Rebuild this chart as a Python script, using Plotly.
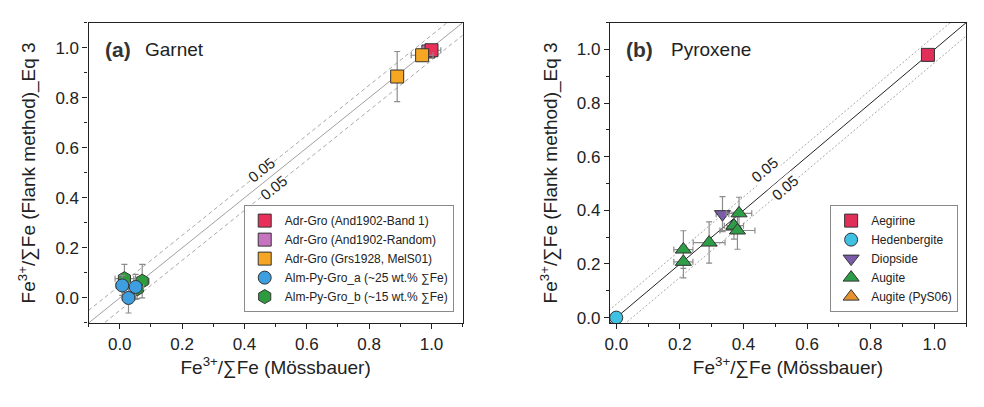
import math
import plotly.graph_objects as go

# ---------------- data: panel (a) Garnet ----------------
band1_x = [1.00]; band1_y = [0.99]; band1_ex = [0.03]; band1_ey = [0.01]
random_x = [0.99]; random_y = [0.985]; random_ex = [0.02]; random_ey = [0.01]
grs_x = [0.89, 0.97]; grs_y = [0.885, 0.97]; grs_ex = [0.02, 0.035]; grs_ey = [0.10, 0.015]
alma_x = [0.008, 0.051, 0.028]; alma_y = [0.050, 0.044, 0.000]
alma_ex = [0.02, 0.025, 0.02]; alma_ey = [0.04, 0.05, 0.06]
almb_x = [0.015, 0.072, 0.056]; almb_y = [0.077, 0.067, 0.037]
almb_ex = [0.03, 0.022, 0.02]; almb_ey = [0.057, 0.067, 0.04]

# ---------------- data: panel (b) Pyroxene ----------------
aeg_x = [0.98]; aeg_y = [0.98]; aeg_ex = [0.01]; aeg_ey = [0.01]
hed_x = [0.0]; hed_y = [0.0]
dio_x = [0.334]; dio_y = [0.386]; dio_ex = [0.02]; dio_ey = [0.065]
aug_x = [0.386, 0.370, 0.381, 0.292, 0.211, 0.211]
aug_y = [0.389, 0.343, 0.325, 0.280, 0.254, 0.208]
aug_ex = [0.04, 0.03, 0.055, 0.05, 0.03, 0.03]
aug_ey = [0.06, 0.05, 0.07, 0.077, 0.07, 0.06]
pys_x = [0.370]; pys_y = [0.343]

# reference lines
diag = [-0.1, 1.1]
offset = 0.05

W, H = 984, 407
FONT = "Liberation Sans, Arial, sans-serif"
TXT = "#222222"
EB = "#8c8c8c"
OUT = dict(color="#333333", width=1)

fig = go.Figure()

def ref_lines(xa, ya, solid_col, dash, dash_col):
    fig.add_trace(go.Scatter(x=diag, y=[v + offset for v in diag], mode="lines",
                             line=dict(color=dash_col, width=1, dash=dash),
                             showlegend=False, hoverinfo="skip", xaxis=xa, yaxis=ya))
    fig.add_trace(go.Scatter(x=diag, y=[v - offset for v in diag], mode="lines",
                             line=dict(color=dash_col, width=1, dash=dash),
                             showlegend=False, hoverinfo="skip", xaxis=xa, yaxis=ya))
    fig.add_trace(go.Scatter(x=diag, y=diag, mode="lines",
                             line=dict(color=solid_col, width=1),
                             showlegend=False, hoverinfo="skip", xaxis=xa, yaxis=ya))

def pts(x, y, ex, ey, name, color, symbol, size, xa, ya, legend):
    kw = {}
    if ex is not None:
        kw["error_x"] = dict(type="data", array=ex, color=EB, thickness=1.2, width=3)
    if ey is not None:
        kw["error_y"] = dict(type="data", array=ey, color=EB, thickness=1.2, width=3)
    fig.add_trace(go.Scatter(x=x, y=y, mode="markers", name=name,
                             marker=dict(color=color, symbol=symbol, size=size, line=OUT),
                             xaxis=xa, yaxis=ya, legend=legend, **kw))

# panel a
ref_lines("x", "y", "#a0a0a0", "4px,3px", "#a8a8a8")
pts(random_x, random_y, random_ex, random_ey, "Adr-Gro (And1902-Random)", "#c774c0", "square", 13, "x", "y", "legend")
pts(band1_x, band1_y, band1_ex, band1_ey, "Adr-Gro (And1902-Band 1)", "#e8305a", "square", 13, "x", "y", "legend")
pts(grs_x, grs_y, grs_ex, grs_ey, "Adr-Gro (Grs1928, MelS01)", "#f5a623", "square", 13, "x", "y", "legend")
pts(almb_x, almb_y, almb_ex, almb_ey, "Alm-Py-Gro_b (~15 wt.% ∑Fe)", "#2e9b3e", "hexagon", 14, "x", "y", "legend")
pts(alma_x, alma_y, alma_ex, alma_ey, "Alm-Py-Gro_a (~25 wt.% ∑Fe)", "#3d9fe0", "circle", 13, "x", "y", "legend")

# panel b
ref_lines("x2", "y2", "#222222", "2px,2px", "#a8a8a8")
pts(aeg_x, aeg_y, aeg_ex, aeg_ey, "Aegirine", "#e0305a", "square", 13, "x2", "y2", "legend2")
pts(hed_x, hed_y, None, None, "Hedenbergite", "#3ec1e3", "circle", 13, "x2", "y2", "legend2")
pts(dio_x, dio_y, dio_ex, dio_ey, "Diopside", "#7a5ca8", "triangle-down", 14, "x2", "y2", "legend2")
pts(pys_x, pys_y, None, None, "Augite (PyS06)", "#e8922e", "triangle-up", 14, "x2", "y2", "legend2")
pts(aug_x, aug_y, aug_ex, aug_ey, "Augite", "#2e9d48", "triangle-up", 14, "x2", "y2", "legend2")

# legend order as in the reference
rank = {"Adr-Gro (And1902-Band 1)": 1, "Adr-Gro (And1902-Random)": 2,
        "Adr-Gro (Grs1928, MelS01)": 3, "Alm-Py-Gro_a (~25 wt.% ∑Fe)": 4,
        "Alm-Py-Gro_b (~15 wt.% ∑Fe)": 5,
        "Aegirine": 1, "Hedenbergite": 2, "Diopside": 3, "Augite": 4, "Augite (PyS06)": 5}
for tr in fig.data:
    if tr.name in rank:
        tr.legendrank = rank[tr.name]

# geometry (pixels)
ax_a = (84, 460); ax_b = (608, 966); ay = (23, 327)
dom_y = [1 - ay[1] / H, 1 - ay[0] / H]

def axis(rng, title, anchor, standoff):
    return dict(range=rng, anchor=anchor,
                showline=True, linecolor="#222", linewidth=1.3, mirror=True,
                ticks="outside", ticklen=5, tickwidth=1.2, tickcolor="#222",
                dtick=0.2, tick0=0, tickformat=".1f",
                minor=dict(ticks="outside", ticklen=3, tickwidth=1.2, tickcolor="#222", dtick=0.1, tick0=0),
                showgrid=False, zeroline=False,
                tickfont=dict(size=17, color=TXT, family=FONT),
                title=dict(text=title, font=dict(size=19, color=TXT, family=FONT), standoff=standoff))

xt = "Fe<sup>3+</sup>/∑Fe (Mössbauer)"
yt = "Fe<sup>3+</sup>/∑Fe (Flank method)_Eq 3"

xa_ = axis([-0.1, 1.1], xt, "y", 6); xa_["domain"] = [ax_a[0] / W, ax_a[1] / W]
xb_ = axis([-0.02, 1.1], xt, "y2", 6); xb_["domain"] = [ax_b[0] / W, ax_b[1] / W]
ya_ = axis([-0.1, 1.1], yt, "x", 14); ya_["domain"] = dom_y
yb_ = axis([-0.02, 1.1], yt, "x2", 14); yb_["domain"] = dom_y

legend_common = dict(bgcolor="white", bordercolor="#8a8a8a", borderwidth=1,
                     font=dict(size=12, color=TXT, family=FONT),
                     xanchor="right", yanchor="bottom", tracegroupgap=0,
                     itemclick=False, itemdoubleclick=False)

fig.update_layout(
    width=W, height=H, autosize=False,
    margin=dict(l=0, r=0, t=0, b=0),
    paper_bgcolor="white", plot_bgcolor="white",
    font=dict(family=FONT, color=TXT),
    xaxis=xa_, yaxis=ya_, xaxis2=xb_, yaxis2=yb_,
    legend=dict(x=451 / W, y=1 - 316 / H, **legend_common),
    legend2=dict(x=958 / W, y=1 - 316 / H, **legend_common),
)

# panel labels
def lbl(xref, yref, x, text, size, bold=False):
    fig.add_annotation(xref=xref, yref=yref, x=x, y=0.912, xanchor="left", yanchor="middle",
                       text=("<b>%s</b>" % text) if bold else text, showarrow=False,
                       font=dict(size=size, color="#333" if bold else TXT, family=FONT))

lbl("x domain", "y domain", 0.038, "(a)", 21, True)
lbl("x domain", "y domain", 0.146, "Garnet", 19)
lbl("x2 domain", "y2 domain", 0.040, "(b)", 21, True)
lbl("x2 domain", "y2 domain", 0.166, "Pyroxene", 19)

# 0.05 labels along the offset lines
ang_a = -math.degrees(math.atan(252 / 312.6))
ang_b = -math.degrees(math.atan(272 / 319))
for xr, yr, xv, yv, ang in [("x", "y", 0.456, 0.512, ang_a),
                             ("x", "y", 0.494, 0.442, ang_a),
                             ("x2", "y2", 0.467, 0.552, ang_b),
                             ("x2", "y2", 0.530, 0.487, ang_b)]:
    fig.add_annotation(xref=xr, yref=yr, x=xv, y=yv, text="0.05", showarrow=False,
                       textangle=ang, bgcolor="white", borderpad=0,
                       font=dict(size=15, color=TXT, family=FONT))

fig.write_html("out.html", config={"displayModeBar": False},
               post_script="document.body.style.margin='0';document.body.style.overflow='hidden';")
